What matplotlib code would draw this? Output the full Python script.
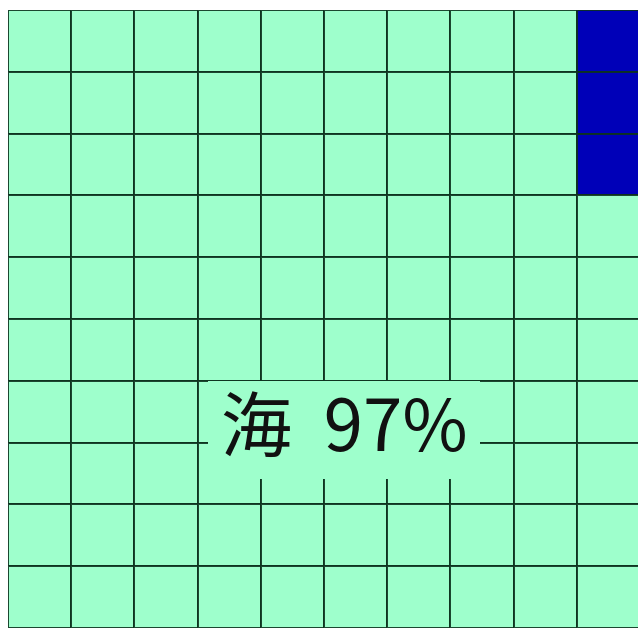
import numpy as np
import matplotlib
matplotlib.use("Agg")
import matplotlib.pyplot as plt
from matplotlib.colors import ListedColormap

plt.rcParams["font.family"] = ["Noto Sans CJK JP", "DejaVu Sans"]

# share of surface, in percent
categories = ["海", "陸"]
values = [97, 3]
colors = ["#9effcc", "#0000b8"]

n_rows, n_cols = 10, 10

# fill cells column by column, bottom to top, category by category
grid = np.zeros((n_rows, n_cols), dtype=int)
cells = []
for c in range(n_cols):
    for r in range(n_rows - 1, -1, -1):
        cells.append((r, c))
k = 0
for idx, v in enumerate(values):
    for _ in range(v):
        r, c = cells[k]
        grid[r, c] = idx
        k += 1

fig = plt.figure(figsize=(6.38, 6.30), dpi=100)
ax = fig.add_axes([8 / 638, 2 / 630, 632 / 638, 618 / 630])
ax.pcolormesh(grid, cmap=ListedColormap(colors), vmin=-0.5, vmax=len(values) - 0.5,
              edgecolors=(0.05, 0.2, 0.12, 0.9), linewidth=1.3)
ax.set_xlim(0, n_cols)
ax.set_ylim(n_rows, 0)
ax.axis("off")

ax.text(5.32, 6.8, f"{categories[0]}  {values[0]}%", fontsize=51,
        ha="center", va="center", color="#111111",
        bbox=dict(facecolor=colors[0], edgecolor="none", pad=9))

fig.savefig("out.png", dpi=100)
